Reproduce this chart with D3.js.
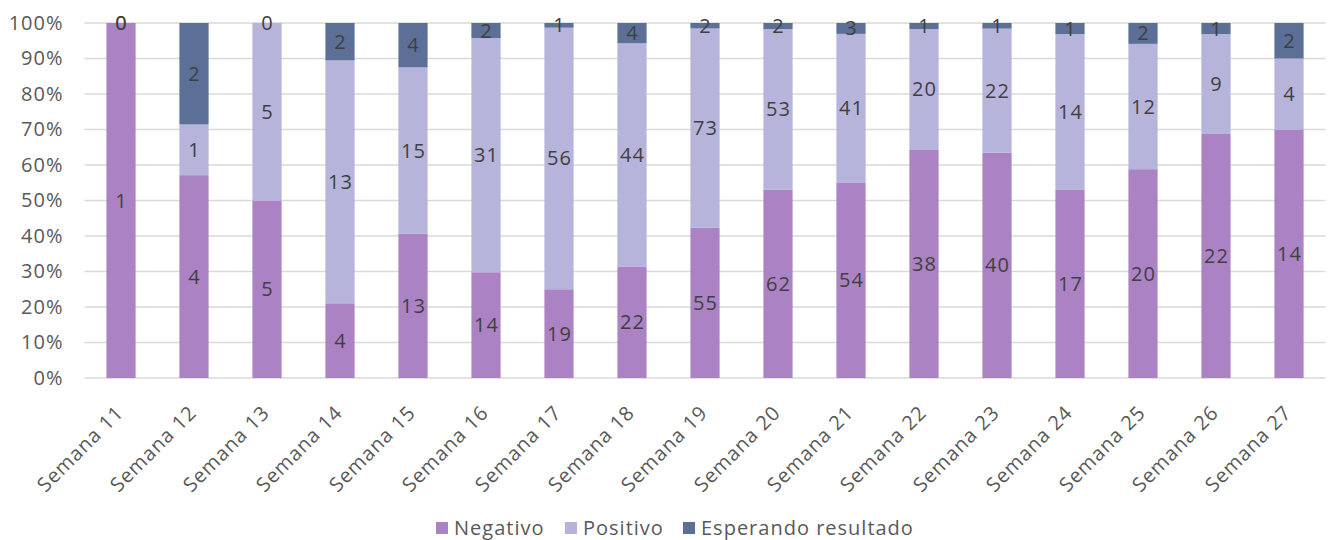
<!DOCTYPE html>
<html>
<head>
<meta charset="utf-8">
<script src="https://cdn.jsdelivr.net/npm/d3@7"></script>
<style>
  html, body { margin: 0; padding: 0; background: #fff; }
  svg { display: block; font-family: "Open Sans", "Noto Sans", sans-serif; }
</style>
</head>
<body>
<svg id="chart" width="1330" height="540"></svg>
<script>
// Weekly test results, stacked to 100%
const categories = ["Semana 11","Semana 12","Semana 13","Semana 14","Semana 15","Semana 16","Semana 17","Semana 18","Semana 19","Semana 20","Semana 21","Semana 22","Semana 23","Semana 24","Semana 25","Semana 26","Semana 27"];
const negativo  = [1, 4, 5, 4, 13, 14, 19, 22, 55, 62, 54, 38, 40, 17, 20, 22, 14];
const positivo  = [0, 1, 5, 13, 15, 31, 56, 44, 73, 53, 41, 20, 22, 14, 12, 9, 4];
const esperando = [0, 2, 0, 2, 4, 2, 1, 4, 2, 2, 3, 1, 1, 1, 2, 1, 2];
const seriesNames = ["Negativo", "Positivo", "Esperando resultado"];
const yTicks = [0, 0.1, 0.2, 0.3, 0.4, 0.5, 0.6, 0.7, 0.8, 0.9, 1];

const colors = ["#ab83c4", "#b7b4dc", "#5b6f97"];
const FS = 20, LS = 1;

const svg = d3.select("#chart");
const margin = { left: 84.5, right: 4.5, top: 23, bottom: 162 };
const W = 1330, H = 540;

const x = d3.scaleBand().domain(categories)
  .range([margin.left, W - margin.right]).paddingInner(0.6).paddingOuter(0.3);
const y = d3.scaleLinear().domain([0, 1]).range([H - margin.bottom, margin.top]);

// Gridlines
svg.append("g").selectAll("line").data(yTicks).join("line")
  .attr("x1", margin.left).attr("x2", W - margin.right)
  .attr("y1", d => y(d)).attr("y2", d => y(d))
  .attr("stroke", "#d9d9d9").attr("stroke-width", 1.3);

// Y axis labels
const yAxis = d3.axisLeft(y).tickValues(yTicks).tickFormat(d3.format(".0%")).tickSize(0).tickPadding(0);
const gy = svg.append("g").attr("transform", `translate(${margin.left - 21},0)`).call(yAxis);
gy.select(".domain").remove();
gy.selectAll("text").attr("font-size", FS).attr("fill", "#595959")
  .attr("letter-spacing", LS)
  .attr("font-family", "'Open Sans', sans-serif");

// Stack data
const rows = categories.map((c, i) => ({ cat: c, Negativo: negativo[i], Positivo: positivo[i], "Esperando resultado": esperando[i] }));
const stack = d3.stack().keys(seriesNames).offset(d3.stackOffsetExpand);
const stacked = stack(rows);

const layers = svg.append("g").selectAll("g").data(stacked).join("g")
  .attr("fill", (d, i) => colors[i]);
layers.selectAll("rect").data(d => d).join("rect")
  .attr("x", d => x(d.data.cat))
  .attr("width", x.bandwidth())
  .attr("y", d => y(d[1]))
  .attr("height", d => Math.max(0, y(d[0]) - y(d[1])));

// Value labels centred in each segment
const labels = svg.append("g");
stacked.forEach((layer) => {
  labels.selectAll(null).data(layer).join("text")
    .attr("x", d => x(d.data.cat) + x.bandwidth() / 2 + LS / 2)
    .attr("y", d => y((d[0] + d[1]) / 2))
    .attr("dy", "0.35em")
    .attr("text-anchor", "middle")
    .attr("font-size", FS)
    .attr("letter-spacing", LS)
    .attr("fill", "#404040")
    .text(d => d.data[layer.key]);
});

// X axis labels, rotated
const gx = svg.append("g");
gx.selectAll("text").data(categories).join("text")
  .attr("transform", d => `translate(${x(d) + x.bandwidth() / 2 - 6},${H - margin.bottom + 26}) rotate(-45)`)
  .attr("text-anchor", "end")
  .attr("dy", "0.7em")
  .attr("font-size", FS)
  .attr("letter-spacing", LS)
  .attr("fill", "#595959")
  .text(d => d);

// Legend
const legend = svg.append("g").attr("transform", "translate(0,528)");
const legendX = [436, 565, 683];
seriesNames.forEach((name, i) => {
  const g = legend.append("g").attr("transform", `translate(${legendX[i]},0)`);
  g.append("rect").attr("x", 0).attr("y", -6).attr("width", 12).attr("height", 12).attr("fill", colors[i]);
  g.append("text").attr("x", 18).attr("dy", "0.36em").attr("font-size", FS)
    .attr("letter-spacing", LS)
    .attr("fill", "#595959").text(name);
});
</script>
</body>
</html>
